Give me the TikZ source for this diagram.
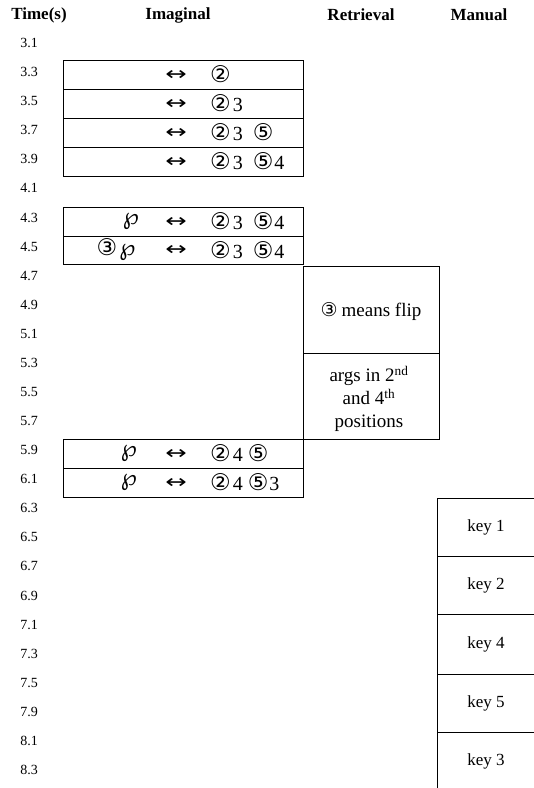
\documentclass[tikz,border=0pt]{standalone}
\usepackage{fontspec}
\usepackage{graphicx}
\setmainfont{Liberation Serif}
\newfontfamily\symf{DejaVu Sans}
\newcommand{\cn}[1]{{\symf\fontsize{23}{23}\selectfont #1}}
\newcommand{\cns}[1]{{\symf\fontsize{19}{19}\selectfont #1}}
\newcommand{\wpg}{{\symf\fontsize{23}{23}\selectfont ℘}}
\newcommand{\arr}{{\symf\fontsize{19}{19}\selectfont\scalebox{1.35}[1]{↔}}}
\begin{document}
\begin{tikzpicture}[x=1pt,y=-1pt,
  box/.style={draw,line width=0.9pt,inner sep=0pt,anchor=north west},
  hdr/.style={font=\fontsize{17}{20}\selectfont\bfseries,inner sep=0pt},
  tlab/.style={font=\fontsize{14}{16}\selectfont,inner sep=0pt},
  itxt/.style={font=\fontsize{20}{22}\selectfont,inner sep=0pt},
  atxt/.style={inner sep=0pt},
  rtxt/.style={font=\fontsize{19}{23}\selectfont,inner sep=0pt,align=center},
  ktxt/.style={font=\fontsize{17}{20}\selectfont,inner sep=0pt}]
\useasboundingbox (0,0) rectangle (534,788);
\clip (0,0) rectangle (534,788);
% headers
\node[hdr] (hT) at (39,15) {Time(s)};
\node[hdr] (hI) at (178,15) {Imaginal};
\node[hdr] (hR) at (361,15) {Retrieval};
\node[hdr] (hM) at (479,15) {Manual};
% time labels
\foreach \t [count=\k from 0] in {3.1,3.3,3.5,3.7,3.9,4.1,4.3,4.5,4.7,4.9,5.1,5.3,5.5,5.7,5.9,6.1,6.3,6.5,6.7,6.9,7.1,7.3,7.5,7.9,8.1,8.3}
  \node[tlab] (t\k) at (29,{43+29.08*\k}) {\t};
% imaginal boxes
\node[box,minimum width=240pt,minimum height=29pt] (i1) at (63,60) {};
\node[box,minimum width=240pt,minimum height=29pt] (i2) at (63,89) {};
\node[box,minimum width=240pt,minimum height=29pt] (i3) at (63,118) {};
\node[box,minimum width=240pt,minimum height=29pt] (i4) at (63,147) {};
\node[box,minimum width=240pt,minimum height=29pt] (i5) at (63,207) {};
\node[box,minimum width=240pt,minimum height=28pt] (i6) at (63,236) {};
\node[box,minimum width=240pt,minimum height=29pt] (i7) at (63,439) {};
\node[box,minimum width=240pt,minimum height=29pt] (i8) at (63,468) {};
% imaginal contents
\node[atxt] (a1) at (176,75) {\arr};
\node[itxt,anchor=west] (c1) at (210,74.5) {\cn{②}};
\node[atxt] (a2) at (176,104) {\arr};
\node[itxt,anchor=west] (c2) at (210,103.5) {\cn{②}\hspace{2pt}3};
\node[atxt] (a3) at (176,133) {\arr};
\node[itxt,anchor=west] (c3) at (210,132.5) {\cn{②}\hspace{2pt}3\hspace{10pt}\cn{⑤}};
\node[atxt] (a4) at (176,162) {\arr};
\node[itxt,anchor=west] (c4) at (210,161.5) {\cn{②}\hspace{2pt}3\hspace{10pt}\cn{⑤}\hspace{1pt}4};
\node[itxt] (l5) at (131,221.5) {\wpg};
\node[atxt] (a5) at (176,222) {\arr};
\node[itxt,anchor=west] (c5) at (210,221.5) {\cn{②}\hspace{2pt}3\hspace{10pt}\cn{⑤}\hspace{1pt}4};
\node[itxt] (l6) at (116,250) {\cn{③}\hspace{2pt}\wpg};
\node[atxt] (a6) at (176,250.5) {\arr};
\node[itxt,anchor=west] (c6) at (210,250) {\cn{②}\hspace{2pt}3\hspace{10pt}\cn{⑤}\hspace{1pt}4};
\node[itxt] (l7) at (129,453.5) {\wpg};
\node[atxt] (a7) at (176,454) {\arr};
\node[itxt,anchor=west] (c7) at (210,453.5) {\cn{②}\hspace{2pt}4\hspace{5pt}\cn{⑤}};
\node[itxt] (l8) at (129,482.5) {\wpg};
\node[atxt] (a8) at (176,483) {\arr};
\node[itxt,anchor=west] (c8) at (210,482.5) {\cn{②}\hspace{2pt}4\hspace{5pt}\cn{⑤}\hspace{1pt}3};
% retrieval
\node[box,minimum width=136pt,minimum height=87pt] (r1) at (303,266) {};
\node[box,minimum width=136pt,minimum height=86pt] (r2) at (303,353) {};
\node[rtxt] (rt1) at (371,312) {\cns{③}\hspace{4pt}means flip};
\node[rtxt] (rt2) at (369,399) {args in 2\textsuperscript{nd}\\and 4\textsuperscript{th}\\positions};
% manual
\node[box,minimum width=110pt,minimum height=58pt] (m1) at (437,498) {};
\node[box,minimum width=110pt,minimum height=58pt] (m2) at (437,556) {};
\node[box,minimum width=110pt,minimum height=60pt] (m3) at (437,614) {};
\node[box,minimum width=110pt,minimum height=58pt] (m4) at (437,674) {};
\node[box,minimum width=110pt,minimum height=70pt] (m5) at (437,732) {};
\node[ktxt] (k1) at (486,527) {key 1};
\node[ktxt] (k2) at (486,585) {key 2};
\node[ktxt] (k3) at (486,644) {key 4};
\node[ktxt] (k4) at (486,703) {key 5};
\node[ktxt] (k5) at (486,761) {key 3};
\end{tikzpicture}
\end{document}
